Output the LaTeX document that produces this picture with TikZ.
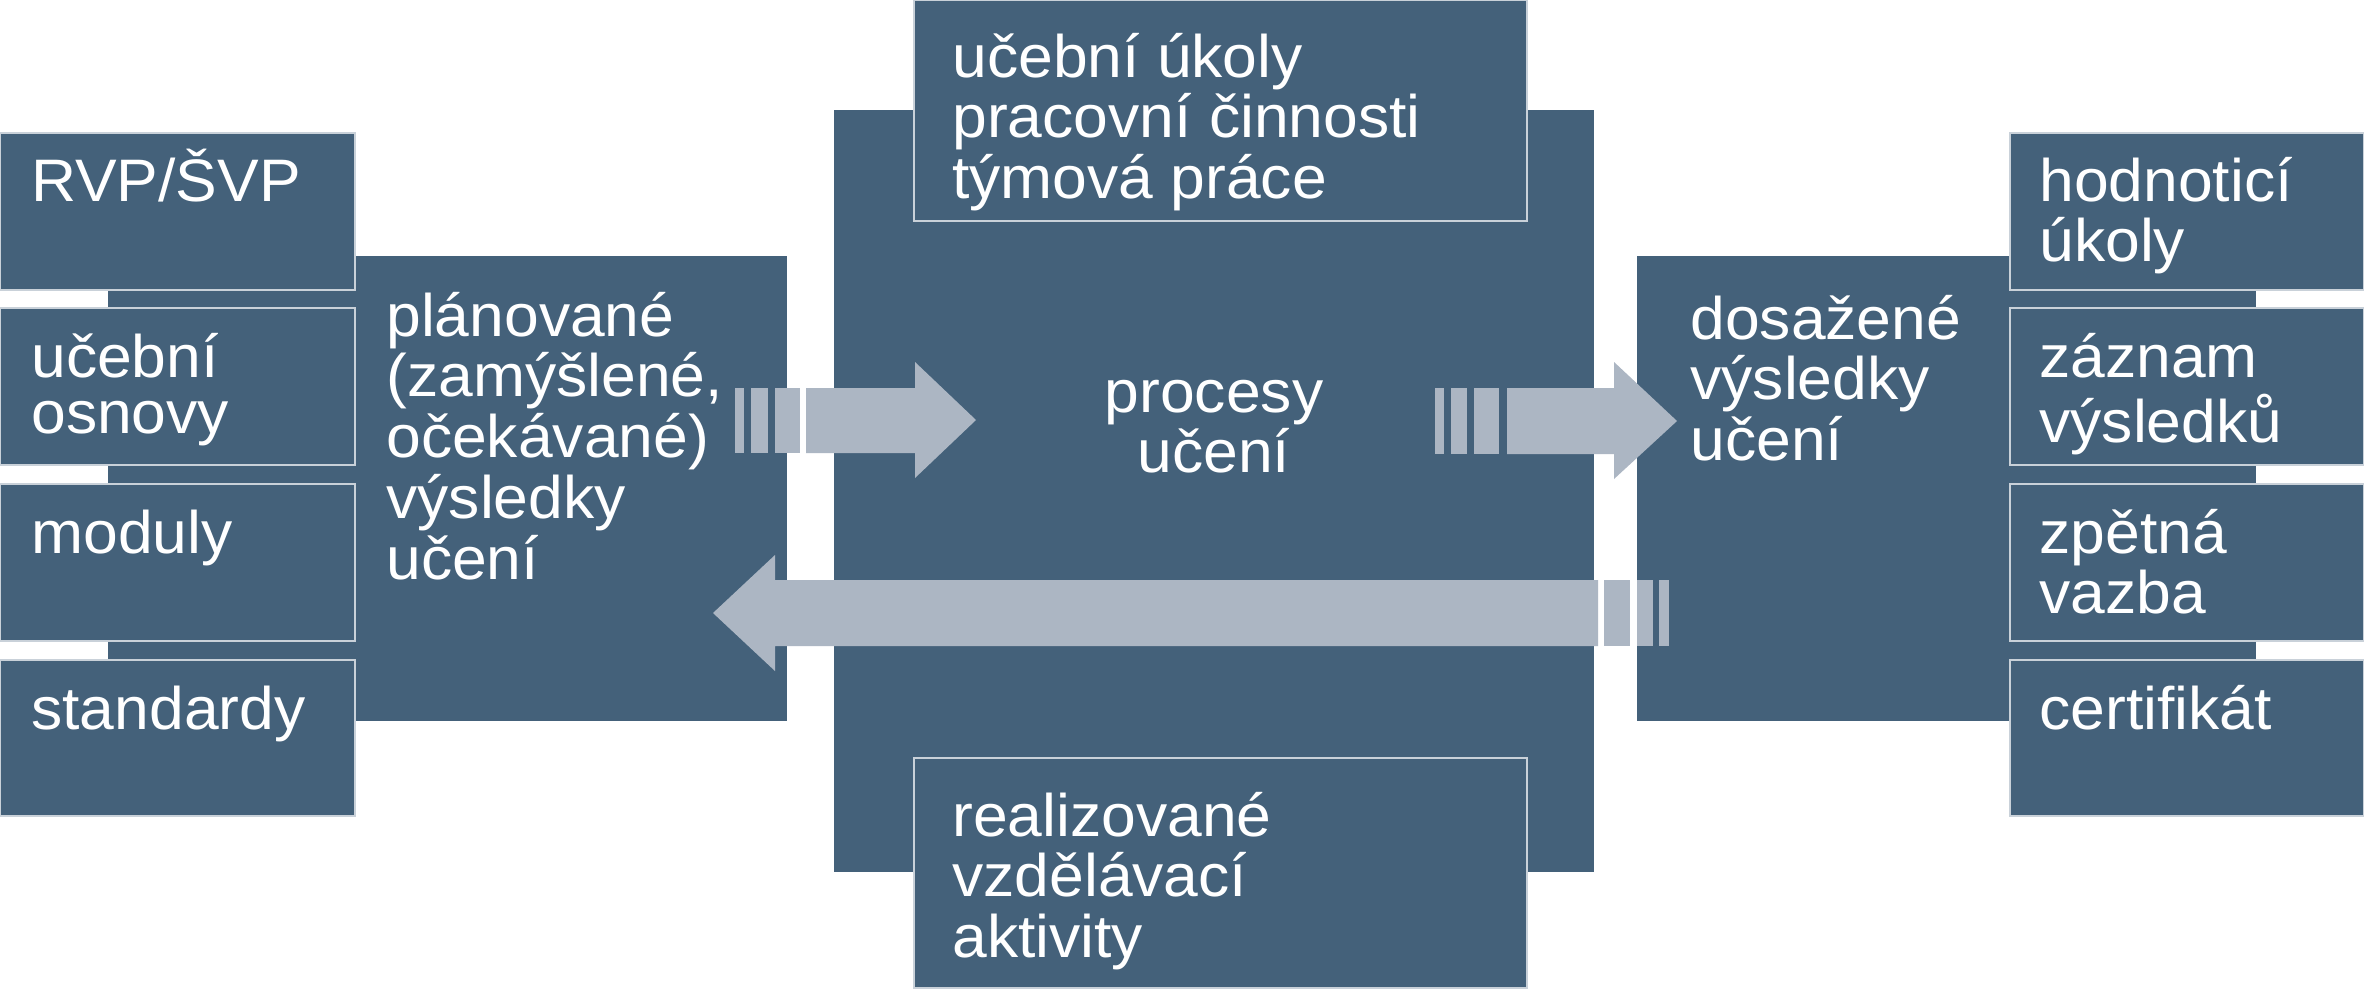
\documentclass[tikz,border=0pt]{standalone}
\usepackage{fontspec}
\setmainfont{Liberation Sans}[FakeStretch=1.04]
\definecolor{boxc}{HTML}{44617A}
\definecolor{arrc}{HTML}{ACB6C3}
\definecolor{edgec}{HTML}{C9D1D9}
\newcommand{\ml}[1]{\begin{tabular}[t]{@{}l@{}}#1\end{tabular}}
\newcommand{\mc}[1]{\begin{tabular}[t]{@{}c@{}}#1\end{tabular}}
\begin{document}
\begin{tikzpicture}[x=0.5pt,y=-0.5pt,
  boxfill/.style={fill=boxc},
  edged/.style={fill=boxc,draw=edgec,line width=0.7pt},
  arrowshape/.style={fill=arrc},
  txt/.style={text=white,inner sep=0pt,anchor=base west,font=\fontsize{30pt}{28pt}\selectfont},
  ctxt/.style={text=white,inner sep=0pt,anchor=base,font=\fontsize{30pt}{28pt}\selectfont}]
\useasboundingbox[fill=white] (0,0) rectangle (2364,991);
% background strips
\fill[boxfill] (108,133) rectangle (355,816);
\fill[boxfill] (2010,133) rectangle (2256,816);
% main boxes
\fill[boxfill] (355,256) rectangle (787,721);
\fill[boxfill] (1637,256) rectangle (2010,721);
\fill[boxfill] (834,110) rectangle (1594,872);
\draw[edged] (914,0) rectangle (1527,221);
\draw[edged] (914,758) rectangle (1527,988);
% left small boxes
\draw[edged] (0,133) rectangle (355,290);
\draw[edged] (0,308) rectangle (355,465);
\draw[edged] (0,484) rectangle (355,641);
\draw[edged] (0,660) rectangle (355,816);
% right small boxes
\draw[edged] (2010,133) rectangle (2364,290);
\draw[edged] (2010,308) rectangle (2364,465);
\draw[edged] (2010,484) rectangle (2364,641);
\draw[edged] (2010,660) rectangle (2364,816);
% arrow 1 (planned -> processes)
\fill[arrowshape] (735,388) rectangle (744,453);
\fill[arrowshape] (751,388) rectangle (768,453);
\fill[arrowshape] (775,388) rectangle (800,453);
\fill[arrowshape] (806,388) -- (915,388) -- (915,362) -- (976,420) -- (915,478) -- (915,453) -- (806,453) -- cycle;
% arrow 2 (processes -> achieved)
\fill[arrowshape] (1435,388) rectangle (1444,454);
\fill[arrowshape] (1451,388) rectangle (1467,454);
\fill[arrowshape] (1474,388) rectangle (1499,454);
\fill[arrowshape] (1507,388) -- (1614,388) -- (1614,362) -- (1677,421) -- (1614,479) -- (1614,454) -- (1507,454) -- cycle;
% arrow 3 (feedback, right -> left)
\fill[arrowshape] (1598,580) -- (775,580) -- (775,555) -- (713,613) -- (775,671) -- (775,646) -- (1598,646) -- cycle;
\fill[arrowshape] (1604,580) rectangle (1630,646);
\fill[arrowshape] (1637,580) rectangle (1653,646);
\fill[arrowshape] (1659,580) rectangle (1669,646);
% texts
\node[txt] (rvp) at (31,201) {RVP/ŠVP};
\node[txt] (osn) at (31,377) {\ml{učební\\osnovy}};
\node[txt] (mod) at (31,553) {moduly};
\node[txt] (std) at (31,729) {standardy};
\node[txt] (plan) at (386,336) {\ml{plánované\\(zamýšlené,\\očekávané)\\výsledky\\učení}};
\node[ctxt] (proc) at (1214,412) {\mc{procesy\\učení}};
\node[txt] (ukoly) at (952,77) {\ml{učební úkoly\\pracovní činnosti\\týmová práce}};
\node[txt] (real) at (952,836) {\ml{realizované\\vzdělávací\\aktivity}};
\node[txt] (dos) at (1690,339) {\ml{dosažené\\výsledky\\učení}};
\node[txt] (hod) at (2039,201) {\ml{hodnoticí\\úkoly}};
\node[txt] (zaz) at (2039,377) {\ml{záznam\\výsledků}};
\node[txt] (zpv) at (2039,553) {\ml{zpětná\\vazba}};
\node[txt] (cert) at (2039,729) {certifikát};
\end{tikzpicture}
\end{document}
